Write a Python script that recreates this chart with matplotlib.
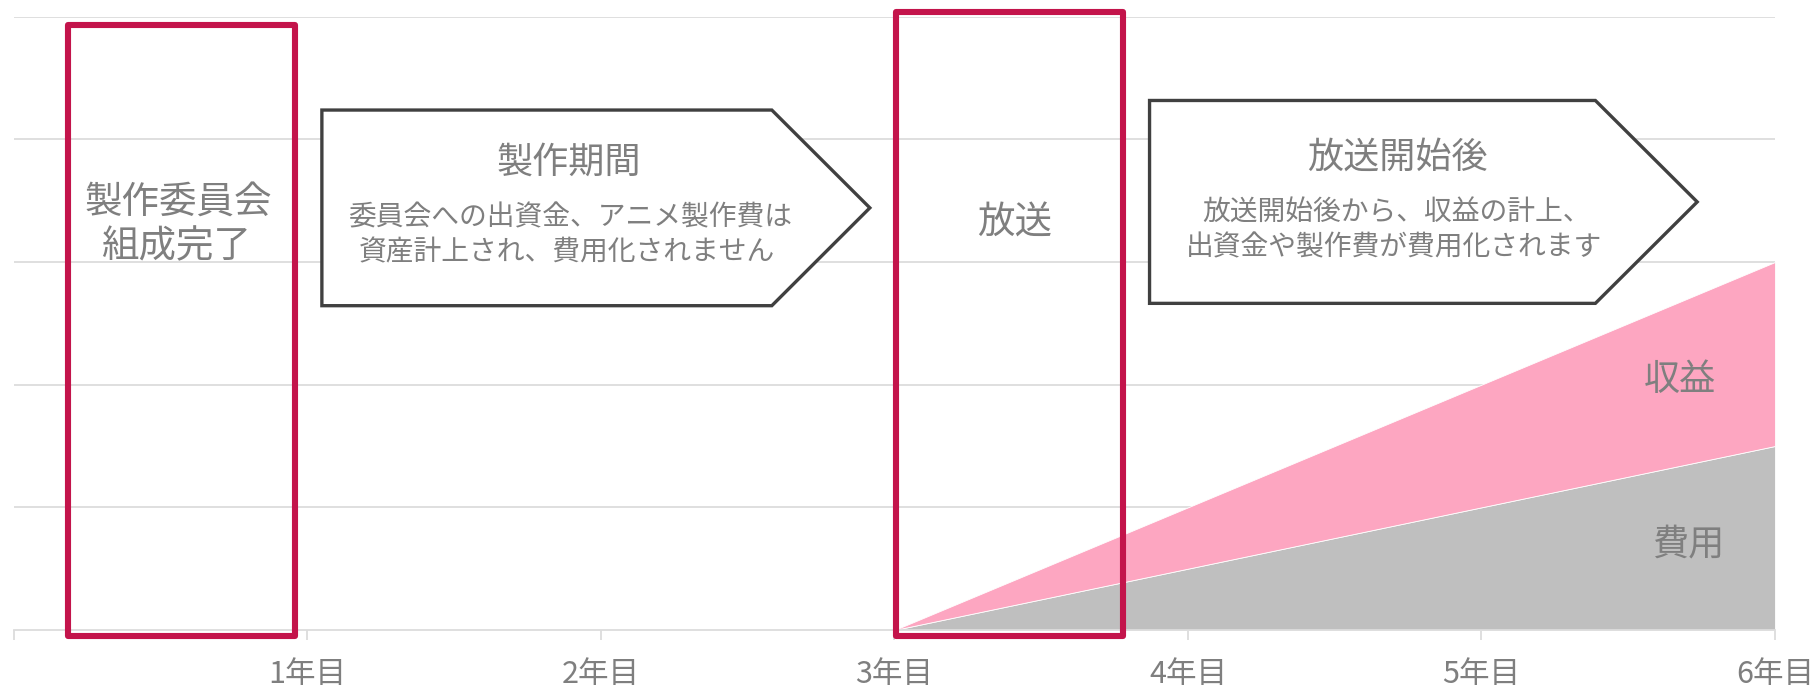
import matplotlib
matplotlib.use("Agg")
import matplotlib.pyplot as plt
from matplotlib.patches import Rectangle, Polygon

plt.rcParams['font.family'] = ['Noto Sans CJK JP', 'DejaVu Sans']

# ---- data ----
year_labels = ['1年目', '2年目', '3年目', '4年目', '5年目', '6年目']
area_x = [3, 4, 5, 6]
cost = [0.0, 0.5, 1.0, 1.5]          # 費用
revenue = [0.0, 0.5, 1.0, 1.5]       # 収益 (stacked on top of 費用)
series_labels = ['費用', '収益']

box_texts = ['製作委員会\n組成完了', '放送']
arrow_titles = ['製作期間', '放送開始後']
arrow_bodies = [['委員会への出資金、アニメ製作費は', '資産計上され、費用化されません'],
                ['放送開始後から、収益の計上、', '出資金や製作費が費用化されます']]

# ---- style ----
PINK = '#FDA6C1'
GRAY = '#BFBFBF'
RED = '#C3144B'
TXT = '#7F7F7F'
GRID = '#DCDCDC'
DARK = '#404040'

W, H = 1815, 697
fig = plt.figure(figsize=(W / 100, H / 100), dpi=100)
ax = fig.add_axes([14 / W, (H - 630) / H, (1775 - 14) / W, (630 - 16.7) / H])
ax.set_xlim(0, 6)
ax.set_ylim(0, 5)

ax.stackplot(area_x, cost, revenue, colors=[GRAY, PINK], labels=series_labels,
             edgecolor='white', linewidth=0.6, zorder=2)

for y in range(1, 6):
    ax.axhline(y, color=GRID, lw=1.3, zorder=1)
for s in ['top', 'right', 'left']:
    ax.spines[s].set_visible(False)
ax.spines['bottom'].set_color(GRID)
ax.spines['bottom'].set_linewidth(1.3)
ax.set_yticks([])
ax.set_xticks(range(0, 7))
ax.set_xticklabels([''] + year_labels, color=TXT, fontsize=22)
ax.tick_params(axis='x', length=7, width=1.3, color=GRID, pad=14)

# ---- red boxes ----
red_boxes = [(0.185, -0.049, 0.959, 4.936), (3.004, -0.049, 3.777, 5.036)]
for (x0, y0, x1, y1) in red_boxes:
    r = Rectangle((x0, y0), x1 - x0, y1 - y0, fill=False, edgecolor=RED,
                  lw=4.4, joinstyle='round', clip_on=False, zorder=5)
    ax.add_patch(r)

ax.text(0.559, 3.489, '製作委員会', ha='center', va='center', fontsize=27, color=TXT, zorder=6)
ax.text(0.553, 3.122, '組成完了', ha='center', va='center', fontsize=27, color=TXT, zorder=6)
ax.text(3.409, 3.314, box_texts[1], ha='center', va='center', fontsize=27, color=TXT, zorder=6)

# ---- pentagon arrows ----
arrows = [(1.049, 2.582, 2.916, 4.239, 2.644), (3.869, 5.388, 5.735, 4.317, 2.663)]
for (xl, xs, xt, yt, yb) in arrows:
    ym = (yt + yb) / 2
    p = Polygon([(xl, yt), (xs, yt), (xt, ym), (xs, yb), (xl, yb)], closed=True,
                facecolor='white', edgecolor=DARK, lw=2.4, joinstyle='miter', zorder=4)
    ax.add_patch(p)

title_pos = [(1.891, 3.807), (4.712, 3.852)]
body_pos = [[(1.894, 3.363), (1.884, 3.078)], [(4.709, 3.404), (4.702, 3.118)]]
for t, (tx, ty), lines, poss in zip(arrow_titles, title_pos, arrow_bodies, body_pos):
    ax.text(tx, ty, t, ha='center', va='center', fontsize=26, color=TXT, zorder=6)
    for ln, (lx, ly) in zip(lines, poss):
        ax.text(lx, ly, ln, ha='center', va='center', fontsize=20, color=TXT, zorder=6)

# ---- series labels ----
ax.text(5.675, 2.038, series_labels[1], ha='center', va='center', fontsize=26, color=TXT, zorder=6)
ax.text(5.704, 0.697, series_labels[0], ha='center', va='center', fontsize=26, color=TXT, zorder=6)

fig.savefig('out.png', dpi=100, facecolor='white')
